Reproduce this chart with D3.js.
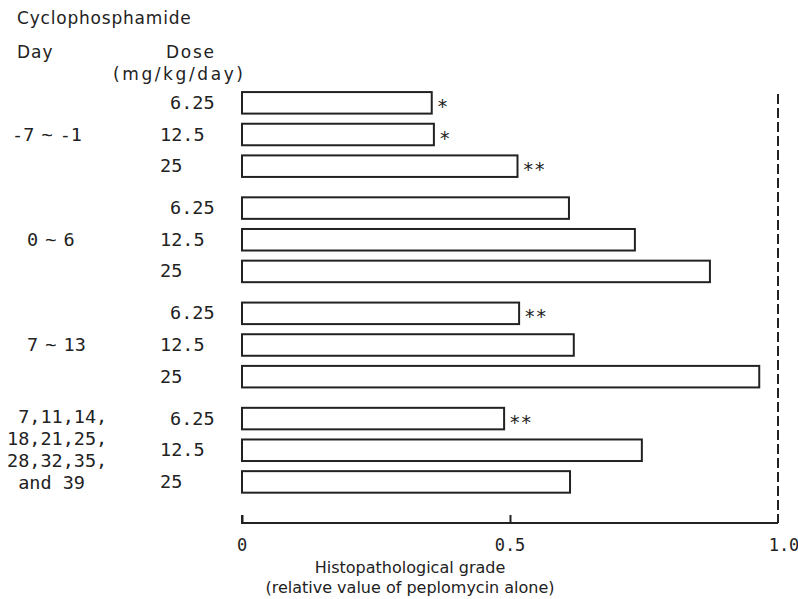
<!DOCTYPE html>
<html>
<head>
<meta charset="utf-8">
<script src="https://cdn.jsdelivr.net/npm/d3@7"></script>
<style>
  body { margin: 0; background: #fff; }
  .sans { font-family: "DejaVu Sans", sans-serif; fill: #222; }
  .mono { font-family: "DejaVu Sans Mono", monospace; fill: #222; }
</style>
</head>
<body>
<div id="chart"></div>
<script>
const groups = ["-7 ~ -1", "0 ~ 6", "7 ~ 13", "multi"];
const groupLines = [["-7 ~ -1"], ["0 ~ 6"], ["7 ~ 13"], [" 7,11,14,", "18,21,25,", "28,32,35,", " and 39"]];
const doses = ["6.25", "12.5", "25"];
// relative histopathological grade, one row per group, in dose order
const values = [
    [0.354, 0.358, 0.514],
    [0.610, 0.733, 0.873],
    [0.517, 0.619, 0.965],
    [0.489, 0.746, 0.612]
];
const marks = [
    ["*", "*", "**"],
    ["", "", ""],
    ["**", "", ""],
    ["**", "", ""]
];
const xTicks = [0, 0.5, 1.0];
const xTickLabels = ["0", "0.5", "1.0"];

const W = 798, H = 599;
const svg = d3.select("#chart").append("svg")
    .attr("width", W)
    .attr("height", H);

const x = d3.scaleLinear().domain([0, 1]).range([242, 778]);
const yGroup = d3.scaleBand().domain(groups).range([87, 508]);
const yDose = d3.scaleBand().domain(doses).range([0, 95])
    .paddingInner(0.32).paddingOuter(0.16);

// headers
svg.append("text").attr("class", "sans").attr("x", 17).attr("y", 24)
    .attr("font-size", 17).attr("letter-spacing", 0.8).text("Cyclophosphamide");
svg.append("text").attr("class", "sans").attr("x", 17).attr("y", 58)
    .attr("font-size", 17).attr("letter-spacing", 1).text("Day");
svg.append("text").attr("class", "sans").attr("x", 166).attr("y", 58)
    .attr("font-size", 17).attr("letter-spacing", 1.7).text("Dose");
svg.append("text").attr("class", "sans").attr("x", 113).attr("y", 80)
    .attr("font-size", 17).attr("letter-spacing", 2.6).text("(mg/kg/day)");

const rows = [];
groups.forEach((g, gi) => {
    doses.forEach((d, di) => {
        rows.push({group: g, dose: d, value: values[gi][di], mark: marks[gi][di]});
    });
});

const yOf = r => yGroup(r.group) + yDose(r.dose);

// bars
svg.append("g").selectAll("rect")
    .data(rows)
    .enter()
    .append("rect")
    .attr("x", x(0))
    .attr("y", yOf)
    .attr("width", r => x(r.value) - x(0))
    .attr("height", yDose.bandwidth())
    .attr("fill", "#fff")
    .attr("stroke", "#222")
    .attr("stroke-width", 2);

// significance marks
svg.append("g").selectAll("text")
    .data(rows.filter(r => r.mark))
    .enter()
    .append("text")
    .attr("class", "mono")
    .attr("font-size", 19)
    .attr("x", r => x(r.value) + 5)
    .attr("y", r => yOf(r) + yDose.bandwidth() / 2 + 10)
    .text(r => r.mark);

// dose labels
svg.append("g").selectAll("text")
    .data(rows)
    .enter()
    .append("text")
    .attr("class", "mono")
    .attr("font-size", 18.5)
    .attr("x", r => r.dose === "6.25" ? 170 : 160)
    .attr("y", r => yOf(r) + yDose.bandwidth() / 2 + 6)
    .text(r => r.dose);

// day labels
groups.forEach((g, gi) => {
    const lines = groupLines[gi];
    const cy = yGroup(g) + yDose("12.5") + yDose.bandwidth() / 2;
    const t = svg.append("text").attr("class", "mono").attr("font-size", 18.5)
        .attr("xml:space", "preserve")
        .attr("word-spacing", lines.length > 1 ? 0 : -4);
    lines.forEach((l, li) => {
        t.append("tspan")
            .attr("x", lines.length > 1 ? 7 : (gi === 0 ? 12 : 27))
            .attr("y", cy + 6 + (li - (lines.length - 1) / 2) * 22)
            .text(l);
    });
});

// x axis
const axisY = 523;
const axis = svg.append("g")
    .attr("transform", `translate(0,${axisY})`)
    .call(d3.axisTop(x).tickValues(xTicks.slice(0, 2)).tickSize(8).tickFormat(""));
axis.select(".domain").attr("stroke", "#222").attr("stroke-width", 2)
    .attr("d", `M${x(0)},-8V0H${x(1)}`);
axis.selectAll(".tick line").attr("stroke", "#222").attr("stroke-width", 2);

svg.append("g").selectAll("text")
    .data(xTicks)
    .enter()
    .append("text")
    .attr("class", "mono")
    .attr("font-size", 17)
    .attr("text-anchor", "middle")
    .attr("x", (d, i) => x(d) + (i === 2 ? 6 : 0))
    .attr("y", 551)
    .text((d, i) => xTickLabels[i]);

// reference line at 1.0
svg.append("line")
    .attr("x1", x(1)).attr("x2", x(1))
    .attr("y1", 94).attr("y2", axisY)
    .attr("stroke", "#222")
    .attr("stroke-width", 2)
    .attr("stroke-dasharray", "10,4");

svg.append("text").attr("class", "sans").attr("font-size", 16)
    .attr("text-anchor", "middle").attr("x", 410).attr("y", 573)
    .text("Histopathological grade");
svg.append("text").attr("class", "sans").attr("font-size", 16)
    .attr("text-anchor", "middle").attr("x", 410).attr("y", 593)
    .text("(relative value of peplomycin alone)");
</script>
</body>
</html>
